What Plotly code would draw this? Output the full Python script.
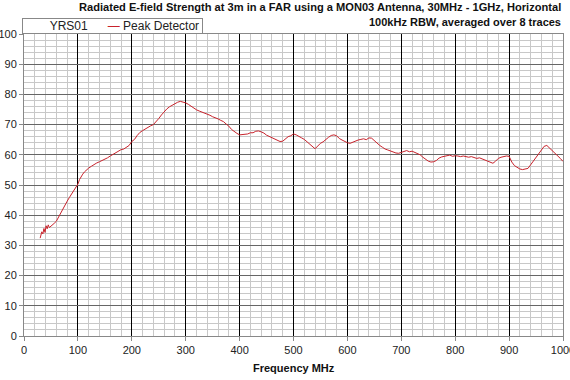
import plotly.graph_objects as go

freq_mhz = [30, 33, 35, 37, 39, 41, 43, 45, 47, 50, 53, 56, 60, 64, 68, 72, 76, 80, 84, 88, 92, 96,
            100, 103, 106, 109, 112, 116, 120, 125, 130, 135, 140, 145, 150, 155, 160, 165, 170, 175,
            180, 185, 190, 195, 200, 205, 210, 215, 220, 225, 230, 235, 240, 245, 250, 255, 260, 265,
            270, 275, 280, 285, 290, 295, 300, 305, 310, 315, 320, 325, 330, 335, 340, 345, 350, 355,
            360, 365, 370, 375, 380, 385, 390, 395, 400, 405, 410, 415, 420, 425, 430, 435, 440, 445,
            450, 455, 460, 465, 470, 475, 480, 485, 490, 495, 500, 505, 510, 515, 520, 525, 530, 535,
            540, 545, 550, 555, 560, 565, 570, 575, 580, 585, 590, 595, 600, 605, 610, 615, 620, 625,
            630, 635, 640, 645, 650, 655, 660, 665, 670, 675, 680, 685, 690, 695, 700, 705, 710, 715,
            720, 725, 730, 735, 740, 745, 750, 755, 760, 765, 770, 775, 780, 785, 790, 795, 800, 805,
            810, 815, 820, 825, 830, 835, 840, 845, 850, 855, 860, 865, 870, 875, 880, 885, 890, 895,
            900, 905, 910, 915, 920, 925, 930, 935, 940, 945, 950, 955, 960, 965, 970, 975, 980, 985,
            990, 995, 1000]

peak_dbuv = [32.4, 34.5, 33.8, 35.6, 34.3, 36.5, 35.5, 36.8, 35.9, 36.3, 36.6, 37.3, 38.0, 39.4, 40.8,
             42.2, 43.4, 44.6, 45.8, 46.9, 48.3, 49.5,
             50.3, 51.8, 53.0, 53.6, 54.3, 55.0, 55.6, 56.2, 56.8, 57.3, 57.7, 58.1, 58.4, 59.0, 59.6,
             60.1, 60.6, 61.0, 61.7, 61.9, 62.6, 63.1, 64.4, 65.1, 66.4, 67.4, 68.0, 68.6, 69.1, 69.6,
             70.0, 70.9, 72.0, 73.2, 74.3, 75.2, 75.9, 76.5, 76.9, 77.4, 77.7, 77.5, 77.2, 76.7, 76.0,
             75.4, 74.9, 74.5, 74.2, 73.8, 73.6, 73.1, 72.6, 72.3, 71.9, 71.4, 71.0, 70.2, 69.5, 68.4,
             67.6, 67.1, 66.6, 66.7, 67.0, 66.9, 67.3, 67.3, 67.8, 67.9, 67.6, 67.2, 66.5, 66.1, 65.7,
             65.2, 64.7, 64.4, 64.5, 65.4, 66.0, 66.3, 66.9, 66.6, 66.2, 65.6, 65.1, 64.4, 63.7, 62.7,
             62.0, 62.9, 63.8, 64.3, 65.2, 65.8, 66.4, 66.6, 66.3, 65.4, 64.9, 64.3, 64.0, 63.8, 64.2,
             64.6, 64.9, 65.1, 65.3, 65.0, 65.6, 65.5, 64.6, 63.8, 63.1, 62.5, 61.9, 61.6, 61.2, 60.9,
             60.6, 60.5, 60.7, 61.1, 61.4, 61.0, 61.2, 60.8, 60.5, 60.0, 59.2, 58.4, 57.9, 57.6, 57.7,
             58.1, 58.9, 59.3, 59.5, 59.7, 59.9, 59.5, 59.7, 59.6, 59.4, 59.6, 59.3, 59.2, 59.4, 59.0,
             58.8, 59.0, 58.6, 58.3, 58.0, 57.6, 57.2, 57.9, 58.8, 59.2, 59.5, 59.6, 59.5, 57.6, 56.4,
             55.7, 55.3, 55.1, 55.2, 55.5, 56.7, 58.0, 59.3, 60.6, 61.6, 62.8, 63.1, 62.3, 61.4, 60.6,
             59.6, 58.8, 57.8]

title_text = "Radiated E-field Strength at 3m in a FAR using a MON03 Antenna, 30MHz - 1GHz, Horizontal"
subtitle_text = "100kHz RBW, averaged over 8 traces"
x_title = "Frequency MHz"
legend_title = "YRS01"
series_name = "Peak Detector"

FONT = "Liberation Sans, Arial, sans-serif"
RED = "#c8232c"
NB = "\u00a0"

fig = go.Figure()
fig.add_trace(go.Scatter(x=freq_mhz, y=peak_dbuv, mode="lines", name=series_name,
                         line=dict(color=RED, width=1), showlegend=False))

legend_text = (NB * 8 + legend_title + NB * 6 +
               f"<span style='color:{RED}'>\u2014</span>" + NB + series_name + NB)

fig.update_layout(
    width=570, height=380,
    margin=dict(l=24, r=7, t=34, b=44),
    paper_bgcolor="white", plot_bgcolor="white",
    font=dict(family=FONT, size=11, color="#222"),
    showlegend=False,
    annotations=[
        dict(text="<b>" + title_text + "</b>", xref="paper", yref="paper",
             x=1.0, y=1.0, xanchor="right", yanchor="bottom", yshift=19, showarrow=False,
             font=dict(size=11.1, color="#111", family=FONT)),
        dict(text="<b>" + subtitle_text + "</b>", xref="paper", yref="paper",
             x=1.0, y=1.0, xanchor="right", yanchor="bottom", yshift=4, showarrow=False,
             font=dict(size=11, color="#111", family=FONT)),
        dict(text=legend_text, xref="paper", yref="paper",
             x=0.0, y=1.0, xanchor="left", yanchor="bottom", xshift=-2, yshift=0,
             showarrow=False, bgcolor="white", bordercolor="#888", borderwidth=1, borderpad=0,
             font=dict(size=12, color="#222", family=FONT)),
        dict(text="<b>" + x_title + "</b>", xref="paper", yref="paper",
             x=0.5, y=0.0, xanchor="center", yanchor="top", yshift=-24, showarrow=False,
             font=dict(size=11, color="#111", family=FONT)),
    ],
)

fig.update_xaxes(
    range=[0, 1000], dtick=100, tick0=0, automargin=False, ticklabeloverflow="allow",
    showgrid=True, gridcolor="#000000", gridwidth=1,
    minor=dict(dtick=20, showgrid=True, gridcolor="#c8c8c8", gridwidth=1),
    showline=True, linecolor="#888", mirror=True,
    ticks="outside", ticklen=4, tickcolor="#888",
    zeroline=False,
    tickfont=dict(size=11, color="#222"),
)
fig.update_yaxes(
    range=[0, 100], dtick=10, tick0=0, automargin=False, ticklabeloverflow="allow",
    showgrid=True, gridcolor="#666666", gridwidth=1,
    minor=dict(dtick=2, showgrid=True, gridcolor="#c8c8c8", gridwidth=1),
    showline=True, linecolor="#888", mirror=True,
    ticks="outside", ticklen=4, tickcolor="#888",
    zeroline=False,
    tickfont=dict(size=11, color="#222"),
)

fig.write_html("out.html", config={"displayModeBar": False},
               post_script="document.body.style.margin='0';")
